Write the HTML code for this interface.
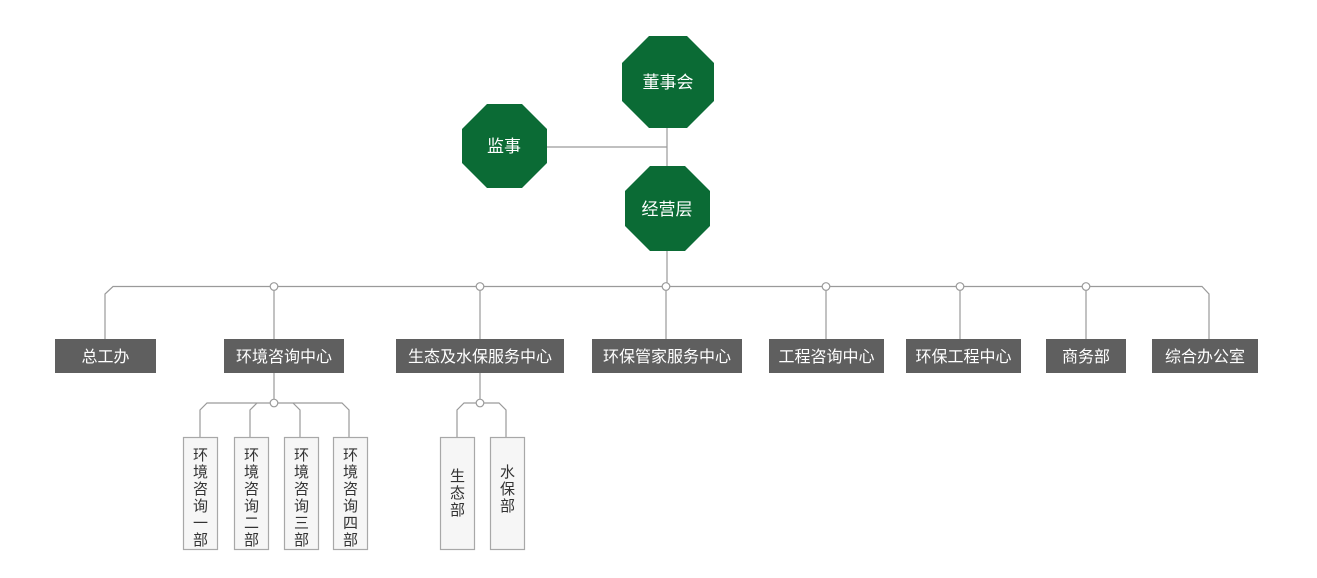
<!DOCTYPE html>
<html><head><meta charset="utf-8">
<style>
html,body{margin:0;padding:0;background:#fff;}
svg{display:block;}
text{font-family:"Liberation Sans","Noto Sans CJK SC",sans-serif;}
</style></head>
<body>
<svg width="1317" height="578" viewBox="0 0 1317 578" xmlns="http://www.w3.org/2000/svg">
<g stroke="#9a9a9a" stroke-width="1.2" fill="none">
  <line x1="667" y1="128" x2="667" y2="166"/>
  <line x1="547" y1="147" x2="667" y2="147"/>
  <line x1="667" y1="251" x2="667" y2="287"/>
  <polyline points="105,339 105,294 113,286.5 1202,286.5 1209,294 1209,339"/>
  <line x1="274" y1="287" x2="274" y2="339"/>
  <line x1="480" y1="287" x2="480" y2="339"/>
  <line x1="666" y1="287" x2="666" y2="339"/>
  <line x1="826" y1="287" x2="826" y2="339"/>
  <line x1="960" y1="287" x2="960" y2="339"/>
  <line x1="1086" y1="287" x2="1086" y2="339"/>
  <!-- env sub -->
  <line x1="274" y1="373" x2="274" y2="403"/>
  <polyline points="200,437 200,410 207,403 342,403 349,410 349,437"/>
  <polyline points="250,437 250,410 257,403"/>
  <polyline points="300,437 300,410 293,403"/>
  <!-- eco sub -->
  <line x1="480" y1="373" x2="480" y2="403"/>
  <polyline points="457,437 457,410 464,403 499,403 506,410 506,437"/>
</g>
<g fill="#fff" stroke="#9a9a9a" stroke-width="1.2">
  <circle cx="274" cy="286.5" r="3.8"/>
  <circle cx="480" cy="286.5" r="3.8"/>
  <circle cx="666" cy="286.5" r="3.8"/>
  <circle cx="826" cy="286.5" r="3.8"/>
  <circle cx="960" cy="286.5" r="3.8"/>
  <circle cx="1086" cy="286.5" r="3.8"/>
  <circle cx="274" cy="403" r="3.8"/>
  <circle cx="480" cy="403" r="3.8"/>
</g>
<!-- octagons -->
<g fill="#0b6b35">
  <polygon points="649,36 687,36 714,63 714,101 687,128 649,128 622,101 622,63"/>
  <polygon points="487,104 522,104 547,129 547,163 522,188 487,188 462,163 462,129"/>
  <polygon points="650,166 685,166 710,191 710,226 685,251 650,251 625,226 625,191"/>
</g>
<g fill="#fff" font-size="17" text-anchor="middle">
  <text x="668" y="88">董事会</text>
  <text x="504" y="152">监事</text>
  <text x="667" y="215">经营层</text>
</g>
<!-- level boxes -->
<g fill="#5f5f5f">
  <rect x="55" y="339" width="101" height="34"/>
  <rect x="224" y="339" width="120" height="34"/>
  <rect x="396" y="339" width="168" height="34"/>
  <rect x="592" y="339" width="150" height="34"/>
  <rect x="769" y="339" width="115" height="34"/>
  <rect x="906" y="339" width="115" height="34"/>
  <rect x="1046" y="339" width="80" height="34"/>
  <rect x="1152" y="339" width="106" height="34"/>
</g>
<g fill="#fff" font-size="16" text-anchor="middle">
  <text x="105.5" y="362">总工办</text>
  <text x="284" y="362">环境咨询中心</text>
  <text x="480" y="362">生态及水保服务中心</text>
  <text x="667" y="362">环保管家服务中心</text>
  <text x="826.5" y="362">工程咨询中心</text>
  <text x="963.5" y="362">环保工程中心</text>
  <text x="1086" y="362">商务部</text>
  <text x="1205" y="362">综合办公室</text>
</g>
<!-- sub boxes -->
<g fill="#f6f6f6" stroke="#a8a8a8" stroke-width="1.2">
  <rect x="183.5" y="437.5" width="34" height="112"/>
  <rect x="234.5" y="437.5" width="34" height="112"/>
  <rect x="284.5" y="437.5" width="34" height="112"/>
  <rect x="333.5" y="437.5" width="34" height="112"/>
  <rect x="440.5" y="437.5" width="34" height="112"/>
  <rect x="490.5" y="437.5" width="34" height="112"/>
</g>
<g fill="#333" font-size="15" text-anchor="middle">
  <text x="200.5" y="460">环</text><text x="200.5" y="477">境</text><text x="200.5" y="494">咨</text><text x="200.5" y="511">询</text><text x="200.5" y="528">一</text><text x="200.5" y="545">部</text>
  <text x="251.5" y="460">环</text><text x="251.5" y="477">境</text><text x="251.5" y="494">咨</text><text x="251.5" y="511">询</text><text x="251.5" y="528">二</text><text x="251.5" y="545">部</text>
  <text x="301.5" y="460">环</text><text x="301.5" y="477">境</text><text x="301.5" y="494">咨</text><text x="301.5" y="511">询</text><text x="301.5" y="528">三</text><text x="301.5" y="545">部</text>
  <text x="350.5" y="460">环</text><text x="350.5" y="477">境</text><text x="350.5" y="494">咨</text><text x="350.5" y="511">询</text><text x="350.5" y="528">四</text><text x="350.5" y="545">部</text>
  <text x="457.5" y="481">生</text><text x="457.5" y="498">态</text><text x="457.5" y="515">部</text>
  <text x="507.5" y="477">水</text><text x="507.5" y="494">保</text><text x="507.5" y="511">部</text>
</g>
</svg>
</body></html>
